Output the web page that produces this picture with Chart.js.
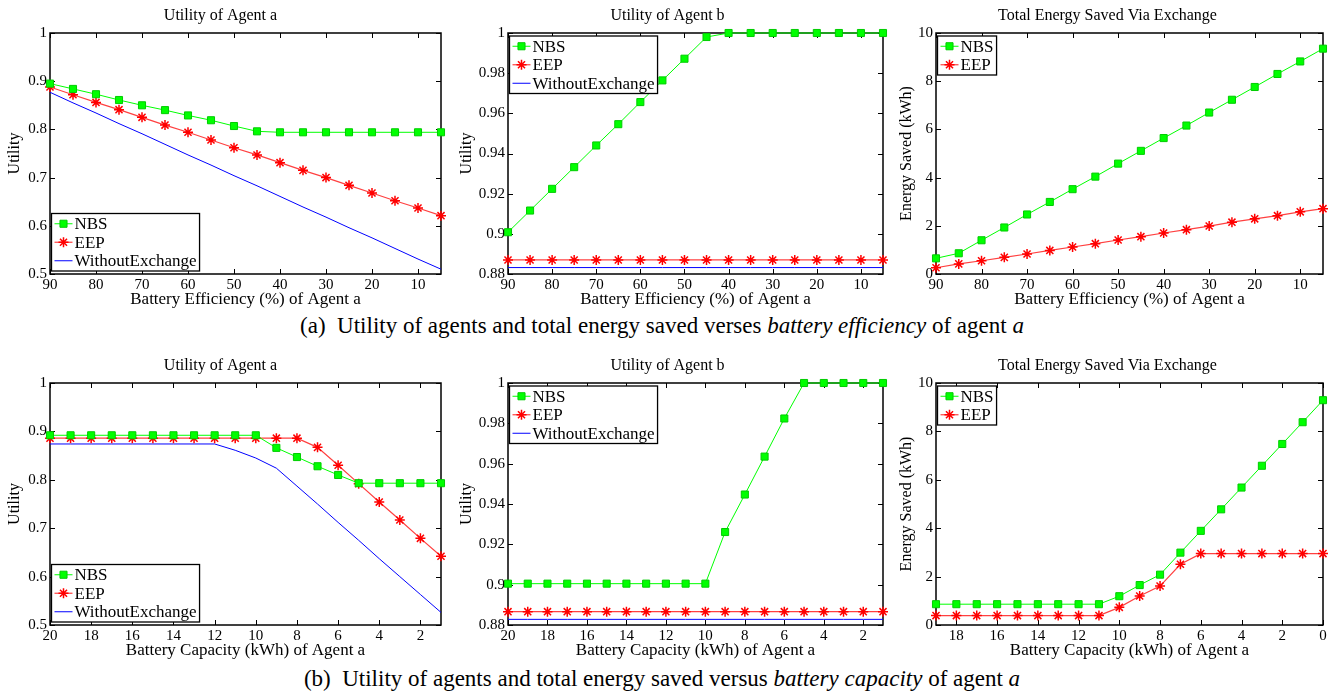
<!DOCTYPE html>
<html>
<head>
<meta charset="utf-8">
<script src="https://cdn.jsdelivr.net/npm/chart.js@4.4.1/dist/chart.umd.min.js"></script>
<style>
  body { margin: 0; background: #fff; width: 1338px; height: 696px; position: relative; overflow: hidden; font-family: "Liberation Serif", serif; }
  canvas { position: absolute; }
  .cap { position: absolute; left: 0; width: 1324px; text-align: center; font-size: 23px; line-height: 26px; color: #000; white-space: nowrap; }
</style>
</head>
<body>
<canvas id="p1"></canvas><canvas id="p2"></canvas><canvas id="p3"></canvas>
<canvas id="p4"></canvas><canvas id="p5"></canvas><canvas id="p6"></canvas>
<div class="cap" style="top:313px">(a)&nbsp; Utility of agents and total energy saved verses <i>battery efficiency</i> of agent <i>a</i></div>
<div class="cap" style="top:666px">(b)&nbsp; Utility of agents and total energy saved versus <i>battery capacity</i> of agent <i>a</i></div>
<script>
/* x values (categories) */
var effX = [90, 85, 80, 75, 70, 65, 60, 55, 50, 45, 40, 35, 30, 25, 20, 15, 10, 5];
var capX = [20, 19, 18, 17, 16, 15, 14, 13, 12, 11, 10, 9, 8, 7, 6, 5, 4, 3, 2, 1];
var capX0 = [19, 18, 17, 16, 15, 14, 13, 12, 11, 10, 9, 8, 7, 6, 5, 4, 3, 2, 1, 0];

/* tick labels */
var effTicks = [90, 80, 70, 60, 50, 40, 30, 20, 10];
var capTicks = [20, 18, 16, 14, 12, 10, 8, 6, 4, 2];
var capTicks0 = [18, 16, 14, 12, 10, 8, 6, 4, 2, 0];
var utilATicks = [0.5, 0.6, 0.7, 0.8, 0.9, 1];
var utilBTicks = [0.88, 0.9, 0.92, 0.94, 0.96, 0.98, 1];
var energyTicks = [0, 2, 4, 6, 8, 10];

/* (a) battery efficiency */
var effUtilA_NBS = [0.895, 0.884, 0.873, 0.861, 0.850, 0.840, 0.829, 0.819, 0.807, 0.796, 0.794, 0.794, 0.794, 0.794, 0.794, 0.794, 0.794, 0.794];
var effUtilA_EEP = [0.888, 0.872, 0.856, 0.841, 0.825, 0.809, 0.794, 0.778, 0.762, 0.747, 0.731, 0.715, 0.700, 0.684, 0.668, 0.652, 0.637, 0.621];
var effUtilA_WO  = [0.877, 0.855, 0.834, 0.812, 0.791, 0.769, 0.747, 0.726, 0.704, 0.683, 0.661, 0.639, 0.618, 0.596, 0.575, 0.553, 0.531, 0.510];

var effUtilB_NBS = [0.9008, 0.9116, 0.9224, 0.9332, 0.9440, 0.9546, 0.9656, 0.9764, 0.9872, 0.9980, 1, 1, 1, 1, 1, 1, 1, 1];
var effUtilB_EEP = [0.887, 0.887, 0.887, 0.887, 0.887, 0.887, 0.887, 0.887, 0.887, 0.887, 0.887, 0.887, 0.887, 0.887, 0.887, 0.887, 0.887, 0.887];
var effUtilB_WO  = [0.8832, 0.8832, 0.8832, 0.8832, 0.8832, 0.8832, 0.8832, 0.8832, 0.8832, 0.8832, 0.8832, 0.8832, 0.8832, 0.8832, 0.8832, 0.8832, 0.8832, 0.8832];

var effEnergy_NBS = [0.65, 0.86, 1.40, 1.93, 2.47, 2.99, 3.52, 4.04, 4.58, 5.11, 5.64, 6.16, 6.70, 7.23, 7.76, 8.30, 8.82, 9.35];
var effEnergy_EEP = [0.26, 0.42, 0.55, 0.69, 0.83, 0.98, 1.12, 1.26, 1.41, 1.55, 1.70, 1.84, 1.99, 2.15, 2.29, 2.42, 2.58, 2.71];

/* (b) battery capacity */
var capUtilA_NBS = [0.892, 0.892, 0.892, 0.892, 0.892, 0.892, 0.892, 0.892, 0.892, 0.892, 0.892, 0.866, 0.847, 0.828, 0.810, 0.793, 0.793, 0.793, 0.793, 0.793];
var capUtilA_EEP = [0.886, 0.886, 0.886, 0.886, 0.886, 0.886, 0.886, 0.886, 0.886, 0.886, 0.886, 0.886, 0.886, 0.867, 0.830, 0.792, 0.754, 0.717, 0.679, 0.642];
var capUtilA_WO  = [0.874, 0.874, 0.874, 0.874, 0.874, 0.874, 0.874, 0.874, 0.874, 0.861, 0.845, 0.824, 0.787, 0.750, 0.712, 0.675, 0.637, 0.600, 0.563, 0.526];

var capUtilB_NBS = [0.9005, 0.9005, 0.9005, 0.9005, 0.9005, 0.9005, 0.9005, 0.9005, 0.9005, 0.9005, 0.9005, 0.9261, 0.9447, 0.9635, 0.9824, 1, 1, 1, 1, 1];
var capUtilB_EEP = [0.8866, 0.8866, 0.8866, 0.8866, 0.8866, 0.8866, 0.8866, 0.8866, 0.8866, 0.8866, 0.8866, 0.8866, 0.8866, 0.8866, 0.8866, 0.8866, 0.8866, 0.8866, 0.8866, 0.8866];
var capUtilB_WO  = [0.8828, 0.8828, 0.8828, 0.8828, 0.8828, 0.8828, 0.8828, 0.8828, 0.8828, 0.8828, 0.8828, 0.8828, 0.8828, 0.8828, 0.8828, 0.8828, 0.8828, 0.8828, 0.8828, 0.8828];

var capEnergy_NBS = [0.86, 0.86, 0.86, 0.86, 0.86, 0.86, 0.86, 0.86, 0.86, 1.19, 1.65, 2.08, 2.99, 3.89, 4.78, 5.68, 6.58, 7.48, 8.38, 9.29];
var capEnergy_EEP = [0.39, 0.39, 0.39, 0.39, 0.39, 0.39, 0.39, 0.39, 0.39, 0.73, 1.20, 1.61, 2.51, 2.95, 2.95, 2.95, 2.95, 2.95, 2.95, 2.95];

Chart.defaults.font.family = '"Liberation Serif", "Times New Roman", serif';
Chart.defaults.color = '#000';

// plot boxes, matched to the reference
var rows = [{top: 33, bottom: 274}, {top: 383, bottom: 625}];
var cols = [{left: 50, right: 441, yw: 50, pad: 10}, {left: 508, right: 883, yw: 56, pad: 8}, {left: 936, right: 1323, yw: 44, pad: 14}];
var TITLE_H = 32, XAXIS_H = 36;

// black box with inward ticks on all four sides
var axesBox = {
  id: 'axesBox',
  beforeDatasetsDraw: function(chart) {
    var ctx = chart.ctx, a = chart.chartArea, x = chart.scales.x, y = chart.scales.y;
    ctx.save();
    ctx.strokeStyle = '#000';
    ctx.lineWidth = 1;
    ctx.beginPath();
    x.ticks.forEach(function(t) {
      var px = Math.round(x.getPixelForValue(t.value)) + 0.5;
      ctx.moveTo(px, a.bottom); ctx.lineTo(px, a.bottom - 5);
      ctx.moveTo(px, a.top); ctx.lineTo(px, a.top + 5);
    });
    y.ticks.forEach(function(t) {
      var py = Math.round(y.getPixelForValue(t.value)) + 0.5;
      ctx.moveTo(a.left, py); ctx.lineTo(a.left + 5, py);
      ctx.moveTo(a.right, py); ctx.lineTo(a.right - 5, py);
    });
    ctx.stroke();
    ctx.lineWidth = 1.5;
    ctx.strokeRect(a.left, a.top, a.right - a.left, a.bottom - a.top);
    ctx.restore();
  }
};

function drawMarker(ctx, d, cx, cy) {
  if (!d.pointRadius) return;
  var r = d.pointRadius;
  ctx.save();
  ctx.fillStyle = d.pointBackgroundColor;
  ctx.strokeStyle = d.pointBorderColor;
  ctx.lineWidth = d.pointBorderWidth;
  ctx.beginPath();
  if (d.pointStyle === 'rect') {
    var s = Math.SQRT1_2 * r;
    ctx.rect(cx - s, cy - s, 2 * s, 2 * s);
    ctx.fill();
    ctx.stroke();
  } else {
    var k = Math.SQRT1_2 * r;
    ctx.moveTo(cx - r, cy); ctx.lineTo(cx + r, cy);
    ctx.moveTo(cx, cy - r); ctx.lineTo(cx, cy + r);
    ctx.moveTo(cx - k, cy - k); ctx.lineTo(cx + k, cy + k);
    ctx.moveTo(cx - k, cy + k); ctx.lineTo(cx + k, cy - k);
    ctx.stroke();
  }
  ctx.restore();
}

// matlab style legend box inside the plot
var boxLegend = {
  id: 'boxLegend',
  afterDatasetsDraw: function(chart, args, opts) {
    var ctx = chart.ctx, a = chart.chartArea, sets = chart.data.datasets;
    ctx.save();
    ctx.font = '17px "Liberation Serif"';
    var textW = Math.max.apply(null, sets.map(function(d) { return ctx.measureText(d.label).width; }));
    var rowH = 18.5;
    var w = 23 + textW + 3, h = sets.length * rowH + 2;
    var left = a.left + 1.5;
    var top = opts.corner === 'bottom' ? a.bottom - 3 - h : a.top + 3;
    ctx.fillStyle = '#fff';
    ctx.fillRect(left, top, w, h);
    ctx.strokeStyle = '#000';
    ctx.lineWidth = 1.3;
    ctx.strokeRect(left, top, w, h);
    sets.forEach(function(d, i) {
      var cy = top + 1 + rowH * (i + 0.5);
      ctx.strokeStyle = d.borderColor;
      ctx.lineWidth = d.borderWidth;
      ctx.beginPath();
      ctx.moveTo(left + 3, cy); ctx.lineTo(left + 21, cy);
      ctx.stroke();
      drawMarker(ctx, d, left + 12, cy);
      ctx.fillStyle = '#000';
      ctx.textBaseline = 'middle';
      ctx.fillText(d.label, left + 23, cy + 1);
    });
    ctx.restore();
  }
};

function pts(xs, ys) {
  return xs.map(function(x, i) { return {x: x, y: ys[i]}; });
}

function nbs(xs, ys) {
  return {label: 'NBS', data: pts(xs, ys), borderColor: '#00ff00', borderWidth: 1,
    pointStyle: 'rect', pointRadius: 5, pointBackgroundColor: '#00ff00', pointBorderColor: '#00cc00', pointBorderWidth: 1};
}
function eep(xs, ys) {
  return {label: 'EEP', data: pts(xs, ys), borderColor: '#ff4040', borderWidth: 1.2,
    pointStyle: 'star', pointRadius: 5, pointBackgroundColor: '#ff0000', pointBorderColor: '#ff0000', pointBorderWidth: 1.5};
}
function without(xs, ys) {
  return {label: 'WithoutExchange', data: pts(xs, ys), borderColor: '#0000ff', borderWidth: 1, pointRadius: 0,
    pointStyle: 'line', pointBackgroundColor: '#0000ff', pointBorderColor: '#0000ff', pointBorderWidth: 0};
}

function makePanel(id, row, col, o) {
  var r = rows[row], c = cols[col];
  var canvas = document.getElementById(id);
  var cw = (c.right - c.left) + c.yw + c.pad;
  var ch = TITLE_H + (r.bottom - r.top) + XAXIS_H;
  canvas.width = cw; canvas.height = ch;
  canvas.style.left = (c.left - c.yw) + 'px';
  canvas.style.top = (r.top - TITLE_H) + 'px';
  canvas.style.width = cw + 'px';
  canvas.style.height = ch + 'px';

  return new Chart(canvas.getContext('2d'), {
    type: 'line',
    data: {datasets: o.datasets},
    plugins: [axesBox, boxLegend],
    options: {
      responsive: false,
      animation: false,
      events: [],
      devicePixelRatio: 1,
      layout: {padding: {left: 0, right: c.pad, top: 0, bottom: 0}},
      elements: {line: {tension: 0}},
      datasets: {line: {clip: false}},
      plugins: {
        legend: {display: false},
        tooltip: {enabled: false},
        boxLegend: {corner: o.corner},
        title: {display: true, text: o.title, font: {size: 16, weight: 'normal', lineHeight: 1.2}, padding: {top: 5, bottom: 7.8}}
      },
      scales: {
        x: {
          type: 'linear', reverse: true, min: o.xmin, max: o.xmax,
          afterBuildTicks: function(s) { s.ticks = o.xticks.map(function(v) { return {value: v}; }); },
          afterFit: function(s) { s.height = XAXIS_H; },
          grid: {display: false, drawTicks: false},
          border: {display: false},
          ticks: {autoSkip: false, maxRotation: 0, padding: 2, font: {size: 15}, callback: function(v) { return String(v); }},
          title: {display: true, text: o.xtitle, font: {size: 17}, padding: {top: 0, bottom: 0}}
        },
        y: {
          type: 'linear', min: o.ymin, max: o.ymax,
          afterBuildTicks: function(s) { s.ticks = o.yticks.map(function(v) { return {value: v}; }); },
          afterFit: function(s) { s.width = c.yw; },
          grid: {display: false, drawTicks: false},
          border: {display: false},
          ticks: {autoSkip: false, padding: 3, font: {size: 15}, callback: function(v) { return String(+v.toFixed(2)); }},
          title: {display: true, text: o.ytitle, font: {size: 16}, padding: {top: 5, bottom: 5}}
        }
      }
    }
  });
}

var effTitle = 'Battery Efficiency (%) of Agent a';
var capTitle = 'Battery Capacity (kWh) of Agent a';

makePanel('p1', 0, 0, {title: 'Utility of Agent a', xtitle: effTitle, ytitle: 'Utility', corner: 'bottom',
  xmin: 5, xmax: 90, xticks: effTicks, ymin: 0.5, ymax: 1, yticks: utilATicks,
  datasets: [nbs(effX, effUtilA_NBS), eep(effX, effUtilA_EEP), without(effX, effUtilA_WO)]});
makePanel('p2', 0, 1, {title: 'Utility of Agent b', xtitle: effTitle, ytitle: 'Utility', corner: 'top',
  xmin: 5, xmax: 90, xticks: effTicks, ymin: 0.88, ymax: 1, yticks: utilBTicks,
  datasets: [nbs(effX, effUtilB_NBS), eep(effX, effUtilB_EEP), without(effX, effUtilB_WO)]});
makePanel('p3', 0, 2, {title: 'Total Energy Saved Via Exchange', xtitle: effTitle, ytitle: 'Energy Saved (kWh)', corner: 'top',
  xmin: 5, xmax: 90, xticks: effTicks, ymin: 0, ymax: 10, yticks: energyTicks,
  datasets: [nbs(effX, effEnergy_NBS), eep(effX, effEnergy_EEP)]});

makePanel('p4', 1, 0, {title: 'Utility of Agent a', xtitle: capTitle, ytitle: 'Utility', corner: 'bottom',
  xmin: 1, xmax: 20, xticks: capTicks, ymin: 0.5, ymax: 1, yticks: utilATicks,
  datasets: [nbs(capX, capUtilA_NBS), eep(capX, capUtilA_EEP), without(capX, capUtilA_WO)]});
makePanel('p5', 1, 1, {title: 'Utility of Agent b', xtitle: capTitle, ytitle: 'Utility', corner: 'top',
  xmin: 1, xmax: 20, xticks: capTicks, ymin: 0.88, ymax: 1, yticks: utilBTicks,
  datasets: [nbs(capX, capUtilB_NBS), eep(capX, capUtilB_EEP), without(capX, capUtilB_WO)]});
makePanel('p6', 1, 2, {title: 'Total Energy Saved Via Exchange', xtitle: capTitle, ytitle: 'Energy Saved (kWh)', corner: 'top',
  xmin: 0, xmax: 19, xticks: capTicks0, ymin: 0, ymax: 10, yticks: energyTicks,
  datasets: [nbs(capX0, capEnergy_NBS), eep(capX0, capEnergy_EEP)]});
</script>
</body>
</html>
